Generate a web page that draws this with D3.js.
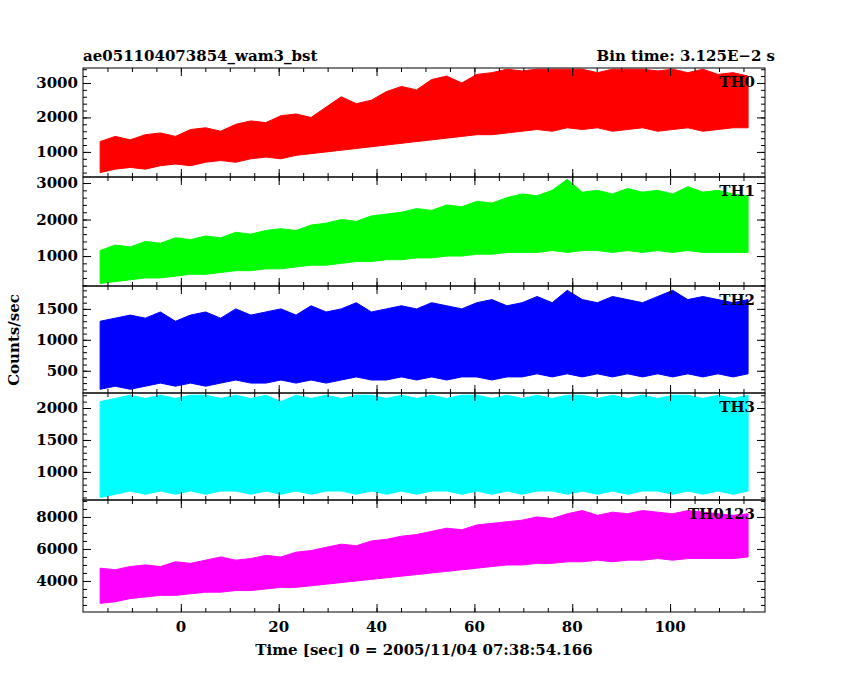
<!DOCTYPE html>
<html><head><meta charset="utf-8">
<script src="https://cdn.jsdelivr.net/npm/d3@7"></script>
<style>body{margin:0;background:#fff}text{font-family:"DejaVu Serif",serif;font-weight:bold}</style>
</head><body><svg id="c" width="850" height="680"></svg>
<script>
const panelNames = ["TH0","TH1","TH2","TH3","TH0123"];
const colors = ["#ff0000","#00ff00","#0000ff","#00ffff","#ff00ff"];
const times = d3.range(-16.5, 117, 3.08);
const hi0 = [1300,1450,1350,1500,1550,1450,1650,1700,1600,1800,1900,1850,2050,2100,2000,2300,2600,2400,2500,2750,2900,2800,3100,3200,3000,3250,3300,3400,3350,3400,3400,3400,3400,3300,3400,3400,3400,3350,3400,3300,3400,3250,3300,3200];
const lo0 = [400,500,550,500,600,650,600,700,750,700,800,850,800,900,950,1000,1050,1100,1150,1200,1250,1300,1350,1400,1450,1500,1500,1550,1600,1650,1600,1700,1650,1700,1600,1650,1700,1600,1650,1700,1600,1650,1700,1700];
const hi1 = [1150,1300,1250,1400,1350,1500,1450,1550,1500,1650,1600,1700,1750,1700,1850,1900,2000,1950,2100,2150,2200,2300,2250,2400,2350,2500,2450,2600,2700,2650,2800,3100,2750,2800,2700,2850,2750,2800,2700,2900,2750,2800,2700,2650];
const lo1 = [250,300,350,400,400,450,500,500,550,600,600,650,650,700,750,750,800,850,850,900,900,950,950,1000,1000,1050,1050,1100,1100,1100,1150,1100,1150,1150,1100,1150,1100,1150,1100,1150,1100,1100,1100,1100];
const hi2 = [1300,1350,1400,1350,1450,1300,1400,1450,1350,1500,1400,1450,1500,1400,1550,1450,1500,1600,1450,1500,1550,1500,1600,1550,1500,1600,1650,1550,1600,1700,1600,1800,1650,1600,1700,1650,1600,1700,1800,1650,1700,1650,1600,1650];
const lo2 = [200,250,200,250,300,250,300,250,300,350,300,300,350,300,350,300,350,400,350,350,400,350,400,350,400,400,350,400,400,450,400,450,400,450,400,450,400,450,400,450,400,450,400,450];
const hi3 = [2100,2150,2200,2150,2200,2150,2200,2200,2150,2200,2150,2200,2100,2200,2150,2200,2150,2200,2200,2150,2200,2150,2200,2150,2200,2200,2150,2200,2150,2200,2150,2200,2200,2150,2200,2150,2200,2150,2200,2200,2150,2200,2150,2200];
const lo3 = [600,650,700,650,700,650,700,650,700,700,650,700,650,700,650,700,700,650,700,650,700,650,700,700,650,700,650,700,650,700,700,650,700,650,700,650,700,700,650,700,650,700,650,700];
const hi4 = [4800,4700,4900,5000,4900,5200,5100,5300,5500,5300,5400,5600,5500,5800,5900,6100,6300,6200,6500,6600,6800,6900,7100,7300,7200,7500,7600,7700,7800,8000,7900,8200,8400,8100,8300,8200,8400,8300,8200,8400,8300,8200,8100,8200];
const lo4 = [2600,2700,2900,3000,3100,3100,3200,3300,3300,3400,3400,3500,3600,3600,3700,3800,3900,4000,4100,4200,4300,4400,4500,4600,4700,4800,4900,5000,5000,5100,5100,5200,5200,5300,5200,5300,5300,5400,5300,5400,5400,5400,5400,5500];
const his = [hi0,hi1,hi2,hi3,hi4], los = [lo0,lo1,lo2,lo3,lo4];
const yDomains = [[272,3435],[180,3165],[140,1870],[560,2235],[2060,9060]];
const yTicks = [[1000,2000,3000],[1000,2000,3000],[500,1000,1500],[1000,1500,2000],[4000,6000,8000]];
const yMinor = [200,200,100,100,500];
const xTicks = [0,20,40,60,80,100];
const panelTops = [68,177,286,393,500,612];

const svg = d3.select("#c");
const L=83,R=765;
const x = d3.scaleLinear().domain([-20,119.4]).range([L,R]);
svg.append("defs").selectAll("clipPath").data(panelNames).join("clipPath").attr("id",(d,i)=>"cl"+i)
  .append("rect").attr("x",L).attr("width",R-L).attr("y",(d,i)=>panelTops[i]).attr("height",(d,i)=>panelTops[i+1]-panelTops[i]);
panelNames.forEach((name,i)=>{
  const t=panelTops[i], b=panelTops[i+1];
  const y = d3.scaleLinear().domain(yDomains[i]).range([b,t]);
  const g = svg.append("g");
  const area = d3.area().x((d,j)=>x(times[j])).y0((d,j)=>y(los[i][j])).y1(d=>y(d));
  g.append("path").datum(his[i]).attr("d",area).attr("fill",colors[i]).attr("stroke",colors[i]).attr("stroke-width",1).attr("clip-path",`url(#cl${i})`);
  const minor = d3.range(Math.ceil(yDomains[i][0]/yMinor[i])*yMinor[i], yDomains[i][1], yMinor[i]);
  g.append("g").attr("transform",`translate(${L},0)`).call(d3.axisRight(y).tickValues(minor).tickSize(4).tickFormat(""));
  g.append("g").attr("transform",`translate(${R},0)`).call(d3.axisLeft(y).tickValues(minor).tickSize(4).tickFormat(""));
  g.append("g").attr("transform",`translate(${L},0)`).call(d3.axisRight(y).tickValues(yTicks[i]).tickSize(8).tickFormat(""));
  g.append("g").attr("transform",`translate(${R},0)`).call(d3.axisLeft(y).tickValues(yTicks[i]).tickSize(8).tickFormat(""));
  g.selectAll("text.yl").data(yTicks[i]).join("text").attr("x",L-5).attr("y",d=>y(d)+5).attr("text-anchor","end").attr("font-size",15).text(d=>d);
  const xm = d3.range(-15,120,5);
  g.append("g").attr("transform",`translate(0,${b})`).call(d3.axisTop(x).tickValues(xm).tickSize(4).tickFormat(""));
  g.append("g").attr("transform",`translate(0,${t})`).call(d3.axisBottom(x).tickValues(xm).tickSize(4).tickFormat(""));
  g.append("g").attr("transform",`translate(0,${b})`).call(d3.axisTop(x).tickValues(xTicks).tickSize(8).tickFormat(""));
  g.append("g").attr("transform",`translate(0,${t})`).call(d3.axisBottom(x).tickValues(xTicks).tickSize(8).tickFormat(""));
  g.selectAll(".domain").remove();
  g.append("rect").attr("x",L).attr("y",t).attr("width",R-L).attr("height",b-t).attr("fill","none").attr("stroke","#000");
  g.append("text").attr("x",R-10).attr("y",t+19).attr("text-anchor","end").attr("font-size",15).text(name);
  if(i===4){
    g.selectAll("text.xl").data(xTicks).join("text").attr("x",d=>x(d)).attr("y",b+20).attr("text-anchor","middle").attr("font-size",15).text(d=>d);
  }
});
svg.selectAll(".tick line").attr("stroke","#000");
svg.append("text").attr("x",83).attr("y",61).attr("font-size",15).text("ae051104073854_wam3_bst");
svg.append("text").attr("x",775).attr("y",61).attr("text-anchor","end").attr("font-size",15).text("Bin time: 3.125E\u22122 s");
svg.append("text").attr("x",424).attr("y",655).attr("text-anchor","middle").attr("font-size",15).text("Time [sec] 0 = 2005/11/04 07:38:54.166");
svg.append("text").attr("transform","translate(19,340) rotate(-90)").attr("text-anchor","middle").attr("font-size",15).text("Counts/sec");
</script></body></html>
